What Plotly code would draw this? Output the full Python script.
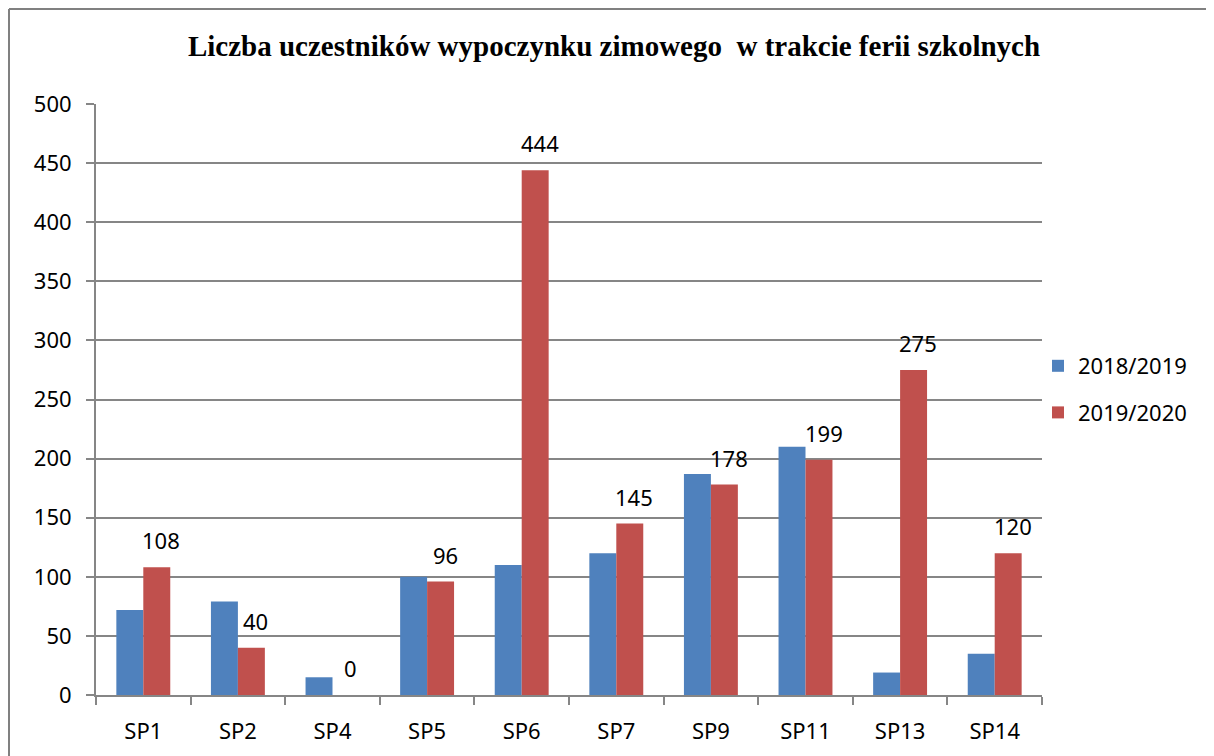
import plotly.graph_objects as go

categories = ["SP1", "SP2", "SP4", "SP5", "SP6", "SP7", "SP9", "SP11", "SP13", "SP14"]
series_2018 = [72, 79, 15, 100, 110, 120, 187, 210, 19, 35]
series_2019 = [108, 40, 0, 96, 444, 145, 178, 199, 275, 120]
series_names = ["2018/2019", "2019/2020"]
y_ticks = [0, 50, 100, 150, 200, 250, 300, 350, 400, 450, 500]
title_text = "Liczba uczestników wypoczynku zimowego  w trakcie ferii szkolnych"

BLUE = "#4F81BD"
RED = "#C0504D"
GRID = "#868686"
FONT = "Noto Sans, Liberation Sans, sans-serif"

fig = go.Figure()
fig.add_trace(go.Bar(
    x=categories, y=series_2018, name=series_names[0],
    marker=dict(color=BLUE, line=dict(width=0)),
    legendgroup="a",
))
fig.add_trace(go.Bar(
    x=categories, y=series_2019, name=series_names[1],
    marker=dict(color=RED, line=dict(width=0)),
    legendgroup="b",
))

# data labels for the second series, placed above the bars
for c, v in zip(categories, series_2019):
    fig.add_annotation(
        x=c, y=v, text=str(v), showarrow=False,
        xshift=18, yshift=27,
        font=dict(family=FONT, size=22, color="#000000"),
    )

# page has an 8px body margin; figure coordinates below are page - 8
W, H = 1206, 748
L, T = 88, 96
pw, ph = 946, 591
R = W - L - pw
B = H - T - ph

# outer frame (top and left edges of the chart border)
fig.add_shape(type="line", xref="paper", yref="paper",
              x0=(1 - L) / pw, x1=(W - L) / pw, y0=(H - B - 1) / ph, y1=(H - B - 1) / ph,
              line=dict(color="#808080", width=2))
fig.add_shape(type="line", xref="paper", yref="paper",
              x0=(1 - L) / pw, x1=(1 - L) / pw, y0=(H - B - 1) / ph, y1=-(B + 5) / ph,
              line=dict(color="#808080", width=2))

fig.update_layout(
    width=W, height=H,
    margin=dict(l=L, r=R, t=T, b=B, pad=0),
    paper_bgcolor="white", plot_bgcolor="white",
    barmode="group", bargap=0.43, bargroupgap=0.0,
    title=dict(
        text=title_text, x=(606 - L) / pw, xref="paper", xanchor="center",
        y=1 - 38 / H, yanchor="middle",
        font=dict(family="Liberation Serif, Times New Roman, serif", size=29, color="#000000", weight="bold"),
    ),
    font=dict(family=FONT, size=22, color="#000000"),
    legend=dict(
        x=(1030 - L) / pw, xanchor="left", y=(H - B - 337) / ph, yanchor="top",
        font=dict(family=FONT, size=22, color="#000000"),
        bgcolor="rgba(0,0,0,0)", traceorder="grouped", tracegroupgap=15,
        itemwidth=30,
    ),
    xaxis=dict(
        type="category", showgrid=False, showline=True, linecolor=GRID, linewidth=2,
        ticks="outside", tickson="boundaries", ticklen=8, tickcolor=GRID, tickwidth=2,
        ticklabelstandoff=16,
        tickfont=dict(family=FONT, size=22, color="#000000"),
    ),
    yaxis=dict(
        range=[0, 500], tickvals=y_ticks, showgrid=True, gridcolor=GRID, gridwidth=2,
        showline=True, linecolor=GRID, linewidth=2, zeroline=False,
        ticks="outside", ticklen=8, tickcolor=GRID, tickwidth=2,
        ticklabelstandoff=10,
        tickfont=dict(family=FONT, size=22, color="#000000"),
    ),
)

fig.write_html("out.html")
